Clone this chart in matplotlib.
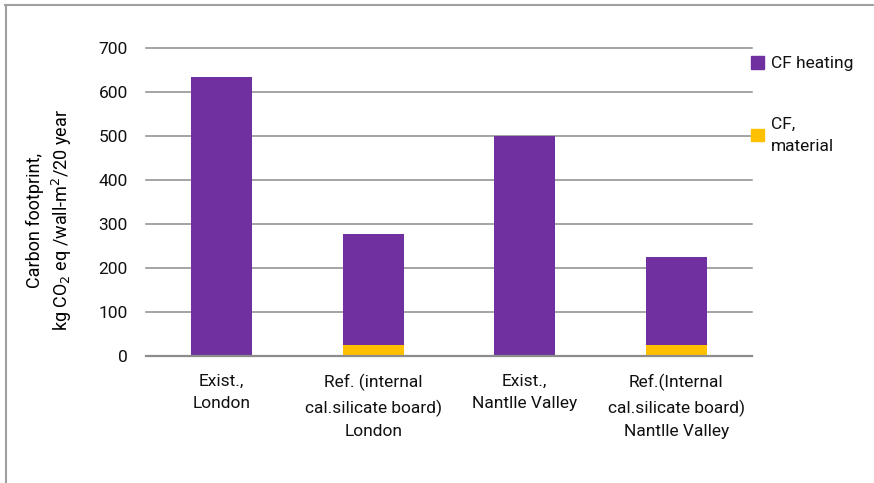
import matplotlib.pyplot as plt
from matplotlib.lines import Line2D
from matplotlib.patches import Patch

# данные
categories = ["Exist.,\nLondon",
              "Ref. (internal\ncal.silicate board)\nLondon",
              "Exist.,\nNantlle Valley",
              "Ref.(Internal\ncal.silicate board)\nNantlle Valley"]
cf_material = [0, 24, 0, 24]
cf_heating = [635, 254, 500, 200]

purple = "#7030A0"
yellow = "#FFC000"

plt.rcParams['font.family'] = ['Roboto', 'DejaVu Sans']
plt.rcParams['font.size'] = 11
plt.rcParams['text.color'] = '#111111'

fig = plt.figure(figsize=(8.74, 4.83), dpi=100)
ax = fig.add_axes([146 / 874, 1 - 356 / 483, 606 / 874, 308 / 483])

x = range(len(categories))
ax.bar(x, cf_material, width=0.4, color=yellow, zorder=3)
ax.bar(x, cf_heating, width=0.4, bottom=cf_material, color=purple, zorder=3)

ax.set_xlim(-0.5, 3.5)
ax.set_ylim(0, 700)
ax.set_yticks(range(0, 701, 100))
ax.set_xticks(list(x))
ax.set_xticklabels(categories, linespacing=1.6)
ax.tick_params(axis='both', length=0, labelsize=12.5, colors='#111111')
ax.tick_params(axis='x', pad=13)
ax.tick_params(axis='y', pad=13)
ax.yaxis.grid(True, color='#8c8c8c', linewidth=1.1, zorder=0)
for gl in ax.yaxis.get_gridlines():
    gl.set_clip_on(False)
for s in ['top', 'right', 'left']:
    ax.spines[s].set_visible(False)
ax.spines['bottom'].set_color('#8c8c8c')
ax.spines['bottom'].set_linewidth(1.6)
ax.spines['bottom'].set_zorder(4)

ax.set_ylabel("Carbon footprint,\nkg CO$_2$ eq /wall-m$^2$/20 year",
              fontsize=13, linespacing=1.35)
ax.yaxis.set_label_coords(-0.118, 0.44)

handles = [Patch(color=purple, label="CF heating"),
           Patch(color=yellow, label="CF,\nmaterial")]
leg = fig.legend(handles=handles, loc='upper left', bbox_to_anchor=(751 / 874, 1 - 56 / 483),
                 frameon=False, fontsize=12.5, handlelength=0.75, handleheight=0.75,
                 handletextpad=0.4, labelspacing=2.6, borderpad=0, borderaxespad=0)
for t in leg.get_texts():
    t.set_linespacing(1.6)

# рамка
fig.add_artist(Line2D([5 / 874, 1], [1 - 5 / 483, 1 - 5 / 483], color='#a0a0a0', linewidth=1.5))
fig.add_artist(Line2D([6 / 874, 6 / 874], [0, 1 - 5 / 483], color='#a0a0a0', linewidth=1.5))

plt.savefig("out.png", dpi=100)
